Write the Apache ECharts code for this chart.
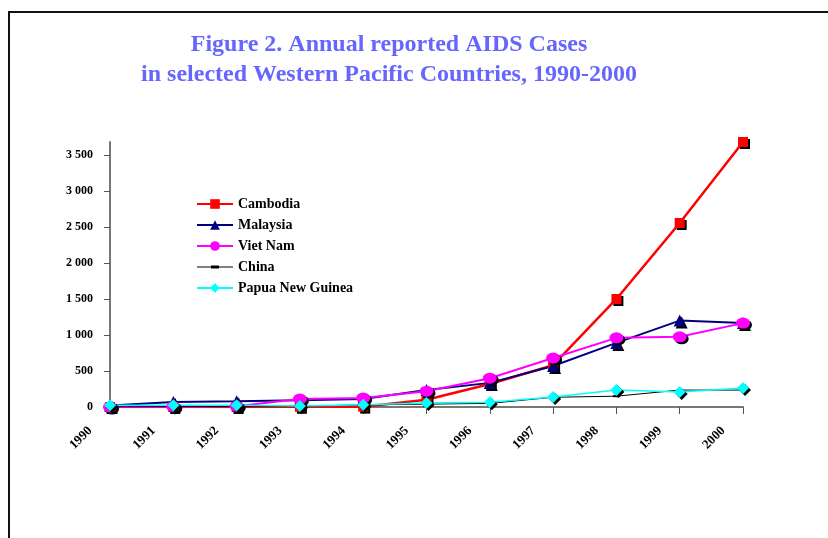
<!DOCTYPE html>
<html>
<head>
<meta charset="utf-8">
<script src="https://cdn.jsdelivr.net/npm/echarts@6/dist/echarts.min.js"></script>
<style>html,body{margin:0;padding:0;background:#fff}#c{width:828px;height:538px}</style>
</head>
<body>
<div id="c"></div>
<script>
var years = ['1990','1991','1992','1993','1994','1995','1996','1997','1998','1999','2000'];
var cambodia = [0, 0, 0, 3, 5, 100, 320, 580, 1500, 2555, 3680];
var malaysia = [20, 70, 80, 95, 110, 235, 335, 570, 890, 1200, 1165];
var vietnam = [0, 5, 10, 110, 125, 220, 400, 680, 960, 975, 1165];
var china = [0, 5, 5, 10, 30, 40, 50, 135, 150, 235, 235];
var png = [25, 25, 25, 15, 30, 55, 65, 140, 235, 210, 265];
var yTicks = [0, 500, 1000, 1500, 2000, 2500, 3000, 3500];

var serif = "'Liberation Serif','Times New Roman',serif";
var shadow = {shadowColor: '#000', shadowOffsetX: 2, shadowOffsetY: 2, shadowBlur: 0};

function fmt(v) {
  var s = String(v);
  if (s.length > 3) s = s.slice(0, s.length - 3) + ' ' + s.slice(-3);
  return s;
}

function mk(name, data, color, width, symbol, size, withShadow) {
  var it = {color: color};
  if (withShadow) Object.assign(it, shadow);
  return {
    name: name, type: 'line', data: data,
    symbol: symbol, symbolSize: size,
    lineStyle: {color: color, width: width},
    itemStyle: it,
    emphasis: {disabled: true},
    animation: false, z: 3
  };
}

var chart = echarts.init(document.getElementById('c'));
chart.setOption({
  animation: false,
  title: {
    text: 'Figure 2. Annual reported AIDS Cases\nin selected Western Pacific Countries, 1990-2000',
    left: 384, top: 25, textAlign: 'center',
    textStyle: {fontFamily: serif, fontWeight: 'bold', fontSize: 24, color: '#6666ff', lineHeight: 30}
  },
  graphic: [{
    type: 'rect', shape: {x: 9, y: 12, width: 900, height: 700},
    style: {fill: 'none', stroke: '#111', lineWidth: 2}, silent: true
  }],
  legend: {
    orient: 'vertical', left: 196, top: 197, padding: 0,
    itemWidth: 36, itemHeight: 12, itemGap: 7,
    textStyle: {fontFamily: serif, fontWeight: 'bold', fontSize: 14, color: '#000'},
    data: ['Cambodia', 'Malaysia', 'Viet Nam',
      {name: 'China', icon: 'path://M0,1 L36,1 L36,2 L0,2 Z M14,0 L22,0 L22,3 L14,3 Z'},
      'Papua New Guinea']
  },
  grid: {left: 110, right: 85, top: 142, bottom: 131, containLabel: false},
  xAxis: {
    type: 'category', data: years, boundaryGap: false,
    axisLine: {lineStyle: {color: '#777', width: 2}},
    axisTick: {show: true, length: 7, alignWithLabel: true, lineStyle: {color: '#555'}},
    axisLabel: {rotate: 45, margin: 2, padding: [0, 28, 0, 0], interval: 0,
      fontFamily: serif, fontWeight: 'bold', fontSize: 13, color: '#000'},
    splitLine: {show: false}
  },
  yAxis: {
    type: 'value', min: 0, max: 3680, interval: 500,
    axisLine: {show: true, lineStyle: {color: '#777', width: 2}},
    axisTick: {show: true, length: 6, customValues: yTicks, lineStyle: {color: '#555'}},
    axisLabel: {margin: 17, customValues: yTicks, formatter: fmt,
      fontFamily: serif, fontWeight: 'bold', fontSize: 12, color: '#000'},
    splitLine: {show: false}
  },
  series: [
    mk('Cambodia', cambodia, '#ff0000', 2.5, 'rect', 10, true),
    mk('Malaysia', malaysia, '#000080', 2, 'triangle', 12, true),
    mk('Viet Nam', vietnam, '#ff00ff', 2, 'circle', [14, 11], true),
    mk('China', china, '#000000', 1, 'rect', [7, 2], false),
    mk('Papua New Guinea', png, '#00ffff', 1.5, 'diamond', 12, true)
  ]
});
</script>
</body>
</html>
